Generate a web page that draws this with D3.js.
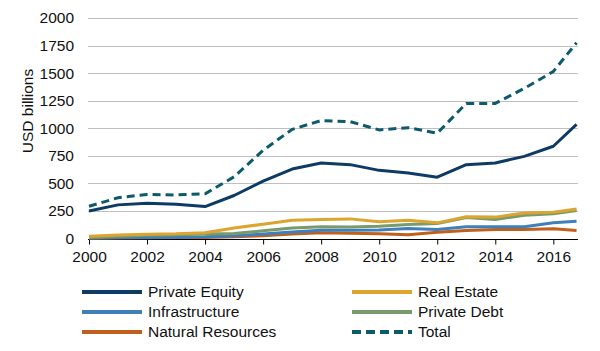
<!DOCTYPE html>
<html>
<head>
<meta charset="utf-8">
<script src="https://cdn.jsdelivr.net/npm/d3@7"></script>
<style>
  body { margin: 0; background: #fff; }
  svg { font-family: "Liberation Sans", Arial, sans-serif; display: block; }
</style>
</head>
<body>
<div id="chart"></div>
<script>
const years = [2000, 2001, 2002, 2003, 2004, 2005, 2006, 2007, 2008, 2009, 2010, 2011, 2012, 2013, 2014, 2015, 2016, 2016.8];
const privateEquity = [250, 305, 320, 310, 290, 390, 520, 630, 685, 670, 618, 595, 556, 670, 685, 745, 837, 1035];
const realEstate = [20, 32, 38, 42, 52, 95, 130, 165, 172, 178, 151, 165, 142, 197, 194, 232, 238, 268];
const infrastructure = [5, 8, 10, 12, 15, 25, 40, 60, 75, 75, 76, 90, 82, 106, 106, 106, 142, 157];
const privateDebt = [10, 20, 30, 35, 40, 45, 70, 95, 106, 104, 112, 127, 136, 190, 172, 211, 224, 254];
const naturalResources = [2, 4, 6, 8, 10, 15, 25, 40, 52, 48, 43, 35, 57, 72, 82, 82, 88, 72];
const total = [292, 370, 400, 395, 405, 560, 800, 990, 1070, 1060, 985, 1005, 955, 1225, 1225, 1362, 1515, 1775];
const yTicks = [0, 250, 500, 750, 1000, 1250, 1500, 1750, 2000];
const xTicks = [2000, 2002, 2004, 2006, 2008, 2010, 2012, 2014, 2016];

const series = [
  { name: "Private Equity", values: privateEquity, color: "#0d3b66", dash: null },
  { name: "Real Estate", values: realEstate, color: "#dca52f", dash: null },
  { name: "Infrastructure", values: infrastructure, color: "#3f80bb", dash: null },
  { name: "Private Debt", values: privateDebt, color: "#789a6c", dash: null },
  { name: "Natural Resources", values: naturalResources, color: "#c0601c", dash: null },
  { name: "Total", values: total, color: "#0c5a6b", dash: "8,5" }
];

const width = 600, height = 351;
const margin = { top: 18, right: 22, bottom: 112, left: 89 };

const svg = d3.select("#chart").append("svg")
  .attr("width", width)
  .attr("height", height);

const x = d3.scaleLinear()
  .domain([2000, 2016.85])
  .range([margin.left, width - margin.right]);

const y = d3.scaleLinear()
  .domain([0, 2000])
  .range([height - margin.bottom - 0.5, margin.top]);

// gridlines
svg.append("g")
  .selectAll("line")
  .data(yTicks.filter(d => d > 0))
  .enter()
  .append("line")
  .attr("x1", margin.left - 1)
  .attr("x2", width - margin.right)
  .attr("y1", d => Math.round(y(d)) + 0.5)
  .attr("y2", d => Math.round(y(d)) + 0.5)
  .attr("stroke", "#bfbfbf")
  .attr("stroke-width", 1);

// y axis labels
svg.append("g")
  .selectAll("text")
  .data(yTicks)
  .enter()
  .append("text")
  .attr("x", 74)
  .attr("y", d => y(d))
  .attr("dy", "0.35em")
  .attr("text-anchor", "end")
  .style("font-size", "15.5px")
  .attr("fill", "#111")
  .text(d => d);

svg.append("text")
  .attr("transform", "translate(33,111) rotate(-90)")
  .attr("text-anchor", "middle")
  .style("font-size", "15.5px")
  .attr("fill", "#111")
  .text("USD billions");

// x axis
const xAxis = svg.append("g")
  .attr("transform", `translate(0,${Math.round(y(0)) + 0.5})`)
  .call(d3.axisBottom(x).tickValues(xTicks).tickFormat(d3.format("d")).tickSize(5).tickPadding(6));
xAxis.select(".domain").attr("stroke", "#000").attr("d", `M${margin.left - 1},0H${width - margin.right}`);
xAxis.selectAll(".tick line").attr("stroke", "#000");
xAxis.selectAll(".tick text")
  .style("font-size", "15.5px")
  .style("font-family", "Liberation Sans, Arial, sans-serif")
  .attr("fill", "#111");

const line = d3.line()
  .x((d, i) => x(years[i]))
  .y(d => y(d));

// smaller series first, PE and total on top
const drawOrder = ["Natural Resources", "Infrastructure", "Private Debt", "Real Estate", "Private Equity", "Total"];
drawOrder.forEach(name => {
  const s = series.find(d => d.name === name);
  svg.append("path")
    .datum(s.values)
    .attr("fill", "none")
    .attr("stroke", s.color)
    .attr("stroke-width", 3)
    .attr("stroke-linejoin", "round")
    .attr("stroke-dasharray", s.dash)
    .attr("d", line);
});

// legend
const legend = svg.append("g");
const cols = [82, 352];
const rows = [292, 312, 332];
series.forEach((s, i) => {
  const lx = cols[i % 2];
  const ly = rows[Math.floor(i / 2)];
  legend.append("line")
    .attr("x1", lx)
    .attr("x2", lx + 60)
    .attr("y1", ly)
    .attr("y2", ly)
    .attr("stroke", s.color)
    .attr("stroke-width", 4)
    .attr("stroke-dasharray", s.dash ? "9,5" : null);
  legend.append("text")
    .attr("x", lx + 66)
    .attr("y", ly)
    .attr("dy", "0.35em")
    .style("font-size", "15.5px")
    .attr("fill", "#111")
    .text(s.name);
});
</script>
</body>
</html>
